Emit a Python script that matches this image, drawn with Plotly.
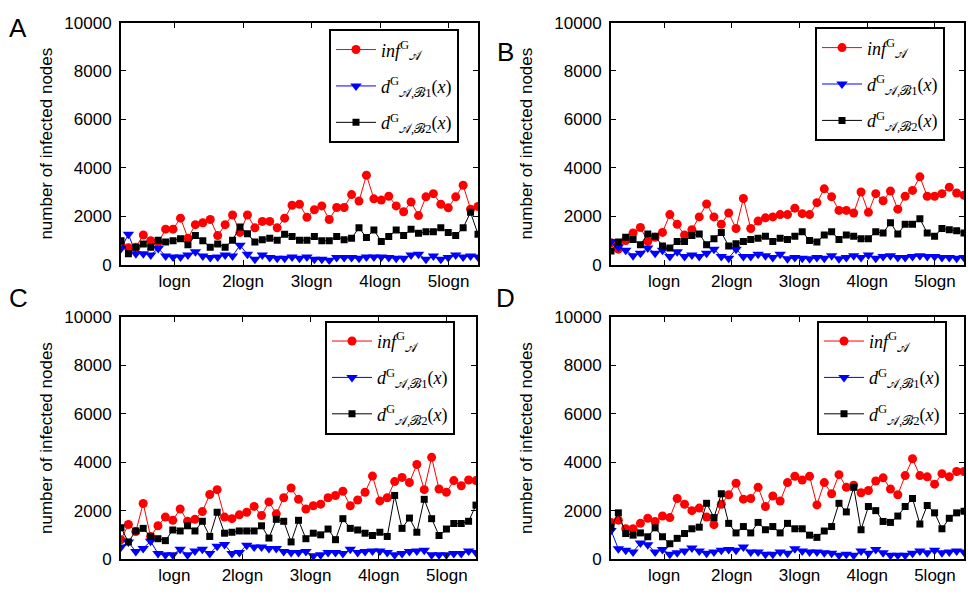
import math
import plotly.graph_objects as go

# Network size; x-axis ticks sit at multiples of log(n)
n = 10000
steps = list(range(2, 51))
tick_mult = [1, 2, 3, 4, 5]
tick_text = ["logn", "2logn", "3logn", "4logn", "5logn"]
y_ticks = [0, 2000, 4000, 6000, 8000, 10000]
y_tick_text = ["0", "2000", "4000", "6000", "8000", "10000"]

# Panel A
a_inf = [800, 700, 720, 1227, 987, 900, 1467, 1467, 1920, 1093, 1653, 1733, 1867, 1200, 1653,
         2053, 1333, 2053, 1520, 1787, 1787, 1520, 1920, 2453, 2493, 1960, 2267, 2427, 1867, 2360,
         2360, 2893, 2627, 3693, 2720, 2667, 2827, 2427, 2187, 2587, 2027, 2800, 2933, 2493, 2347,
         2800, 3280, 2293, 2400]
a_d1 = [667, 1253, 453, 453, 400, 667, 360, 320, 320, 400, 533, 360, 293, 320, 400, 360, 800, 427,
        227, 400, 293, 267, 267, 320, 267, 320, 227, 227, 187, 293, 293, 293, 267, 320, 320, 320,
        293, 267, 267, 400, 427, 227, 360, 227, 293, 400, 320, 360, 320]
a_d2 = [987, 453, 720, 853, 720, 1013, 933, 987, 1067, 827, 1200, 987, 720, 853, 720, 1013, 1560,
        1280, 933, 1027, 1093, 1013, 1253, 1160, 1013, 1013, 1160, 987, 987, 1160, 1027, 1093, 1520,
        1120, 1427, 960, 1160, 1427, 1200, 1467, 1293, 1360, 1360, 1520, 1333, 1200, 1520, 2160, 1253]

# Panel B
b_inf = [900, 640, 1000, 1307, 1533, 960, 1133, 1333, 2067, 1667, 1227, 1440, 1973, 2507, 1973,
         1667, 2133, 1493, 2733, 1493, 1800, 1933, 1973, 2067, 2067, 2333, 2107, 2067, 2560, 3133,
         2800, 2240, 2240, 2133, 3000, 2160, 2933, 2640, 3040, 2293, 2827, 3067, 3627, 2827, 2827,
         2933, 3200, 2960, 2867]
b_d1 = [960, 733, 600, 373, 467, 693, 467, 600, 333, 533, 333, 400, 333, 467, 640, 333, 267, 640,
        333, 333, 427, 373, 293, 427, 240, 293, 267, 240, 293, 267, 373, 240, 293, 373, 293, 400,
        267, 333, 373, 293, 293, 333, 373, 333, 333, 293, 293, 267, 293]
b_d2 = [560, 933, 1133, 1040, 827, 1267, 1173, 773, 693, 960, 960, 1200, 1267, 827, 1067, 1333,
        773, 867, 960, 1040, 1093, 1173, 960, 1093, 1040, 1173, 1360, 1000, 933, 1227, 1360, 1040,
        1227, 1173, 1067, 1067, 1360, 1307, 1733, 1267, 1667, 1667, 1893, 1307, 1173, 1493, 1440,
        1400, 1307]

# Panel C
c_inf = [800, 1427, 1133, 2293, 933, 1373, 1733, 1600, 2067, 1560, 1640, 1960, 2667, 2867, 1733,
         1667, 1827, 1933, 2173, 1800, 2360, 1867, 2533, 2933, 2467, 2067, 2200, 2267, 2533, 2627,
         2800, 2200, 2440, 2760, 3427, 2400, 2533, 3200, 3373, 3160, 3907, 2867, 4200, 2893, 2760,
         3240, 3027, 3267, 3240]
c_d1 = [500, 700, 307, 440, 733, 227, 173, 173, 400, 173, 333, 400, 227, 533, 600, 227, 267, 573,
        493, 493, 440, 440, 307, 267, 267, 307, 133, 173, 267, 267, 227, 400, 267, 307, 333, 333,
        267, 173, 227, 307, 333, 360, 173, 173, 173, 227, 227, 333, 267]
c_d2 = [1293, 707, 1160, 1267, 933, 840, 760, 1200, 1160, 1373, 1160, 1560, 933, 1933, 1067, 1107,
        1160, 1160, 1160, 1373, 867, 1640, 1560, 707, 1600, 840, 1067, 1000, 1240, 800, 1667, 1267,
        1200, 1067, 973, 1107, 933, 2627, 1267, 1693, 1107, 2467, 1667, 973, 1240, 1467, 1467,
        1560, 2227]

# Panel D
d_inf = [1513, 1605, 1250, 1250, 1474, 1684, 1553, 1776, 1711, 2500, 2263, 2000, 2105, 1737, 1421,
         2263, 2658, 3132, 2474, 2500, 2961, 2171, 2605, 2395, 3158, 3421, 3263, 3421, 2237, 3158,
         2697, 3487, 2961, 3053, 2737, 2829, 3224, 3355, 2895, 2658, 3447, 4145, 3447, 3395, 3092,
         3526, 3395, 3618, 3618]
d_d1 = [1184, 421, 368, 289, 658, 592, 289, 395, 197, 263, 329, 461, 329, 237, 289, 368, 395, 368,
        500, 289, 289, 197, 197, 289, 237, 421, 329, 289, 289, 263, 237, 158, 197, 158, 329, 237,
        395, 263, 158, 158, 158, 237, 329, 263, 368, 263, 289, 329, 289]
d_d2 = [1316, 1908, 1053, 987, 1079, 921, 1289, 921, 632, 855, 1053, 1250, 1316, 2303, 1711, 2697,
        1474, 1079, 1342, 1079, 1513, 1210, 1342, 1079, 1474, 1250, 1250, 987, 895, 1158, 1342,
        2303, 1947, 2961, 1210, 2171, 2000, 1553, 1513, 1776, 2171, 2500, 1447, 2211, 1908, 1250,
        1684, 1908, 1974]

panel_letters = ["A", "B", "C", "D"]
panel_data = [(a_inf, a_d1, a_d2), (b_inf, b_d1, b_d2), (c_inf, c_d1, c_d2), (d_inf, d_d1, d_d2)]

series_names = [
    "<i>inf</i><sup>G</sup><sub>𝒜</sub>",
    "<i>d</i><sup>G</sup><sub>𝒜,ℬ1</sub>(<i>x</i>)",
    "<i>d</i><sup>G</sup><sub>𝒜,ℬ2</sub>(<i>x</i>)",
]
series_style = [
    dict(color="#ff0000", symbol="circle", size=9),
    dict(color="#0000ff", symbol="triangle-down", size=10),
    dict(color="#000000", symbol="square", size=7),
]

W, H = 968, 601
# plot-area pixel boxes: (left, right, top, bottom)
boxes = [(121, 478, 14, 264), (611, 964, 14, 264), (121, 476, 318, 568), (611, 964, 318, 568)]
legend_pos = [(329, 21), (815, 19), (325, 322), (817, 322)]
letter_pos = [(18, 20), (505, 44), (18, 298), (505, 298)]
ytitle_x = [47, 527, 47, 527]

fig = go.Figure()
layout = dict(
    width=W, height=H, autosize=False,
    margin=dict(l=0, r=0, t=0, b=0),
    paper_bgcolor="white", plot_bgcolor="white",
    font=dict(family="Liberation Sans, Arial, sans-serif", size=17, color="black"),
    annotations=[],
)

tickvals = [k * math.log(n) for k in tick_mult]

for p, (vals, box) in enumerate(zip(panel_data, boxes)):
    idx = "" if p == 0 else str(p + 1)
    leg = "legend" if p == 0 else f"legend{p + 1}"
    for s, (ys, name, st) in enumerate(zip(vals, series_names, series_style)):
        fig.add_trace(go.Scatter(
            x=steps, y=ys, mode="lines+markers", name=name,
            xaxis=f"x{idx}", yaxis=f"y{idx}",
            line=dict(color=st["color"], width=1),
            marker=dict(color=st["color"], symbol=st["symbol"], size=st["size"], line=dict(width=0)),
            legend=leg, legendgroup=f"{p}-{s}",
        ))
    l, r, t, b = box
    axis_common = dict(
        showline=True, linecolor="black", linewidth=2, mirror="ticks",
        ticks="inside", ticklen=5, tickwidth=1, tickcolor="black",
        showgrid=False, zeroline=False,
        tickfont=dict(size=17, color="black"),
    )
    layout[f"xaxis{idx}"] = dict(
        domain=[l / W, r / W], anchor=f"y{idx}",
        range=[steps[0], steps[-1]], tickvals=tickvals, ticktext=tick_text,
        **axis_common,
    )
    layout[f"yaxis{idx}"] = dict(
        domain=[1 - b / H, 1 - t / H], anchor=f"x{idx}",
        range=[0, 10000], tickvals=y_ticks, ticktext=y_tick_text, ticklabelstandoff=4,
        **axis_common,
    )
    lx, ly = legend_pos[p]
    layout[leg] = dict(
        x=lx / W, y=1 - ly / H, xanchor="left", yanchor="top",
        bgcolor="white", bordercolor="black", borderwidth=2,
        font=dict(family="Liberation Serif, DejaVu Serif, serif", size=18, color="black"),
        traceorder="grouped", tracegroupgap=10, itemwidth=40,
    )
    px_, py_ = letter_pos[p]
    layout["annotations"].append(dict(
        text=panel_letters[p], x=px_ / W, y=1 - py_ / H, xref="paper", yref="paper",
        showarrow=False, font=dict(size=26, color="black"),
        xanchor="center", yanchor="middle",
    ))
    layout["annotations"].append(dict(
        text="number of infected nodes", x=ytitle_x[p] / W, y=1 - (t + b) / 2 / H,
        xref="paper", yref="paper", showarrow=False, textangle=-90,
        font=dict(size=17, color="black"), xanchor="center", yanchor="middle",
    ))

fig.update_layout(**layout)
fig.write_html("out.html")
